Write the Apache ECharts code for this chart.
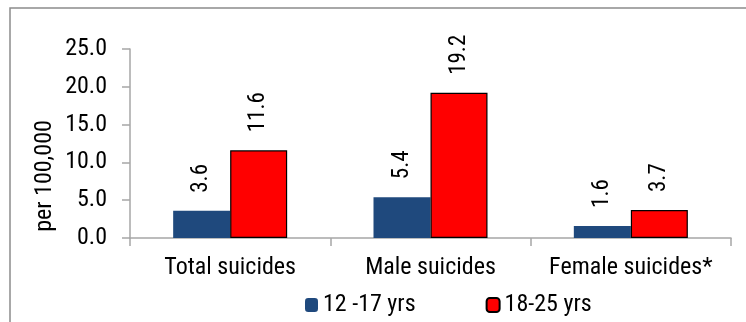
<!DOCTYPE html>
<html>
<head>
<meta charset="utf-8">
<style>
  html, body { margin: 0; padding: 0; background: #fff; }
  #chart { width: 746px; height: 322px; }
</style>
<script src="https://cdn.jsdelivr.net/npm/echarts@6/dist/echarts.min.js"></script>
</head>
<body>
<div id="chart"></div>
<script>
// Suicide rates per 100,000 by age group
const categories = ['Total suicides', 'Male suicides', 'Female suicides*'];
const seriesNames = ['12 -17 yrs', '18-25 yrs'];
const rates12to17 = [3.6, 5.4, 1.6];
const rates18to25 = [11.6, 19.2, 3.7];
const yMin = 0, yMax = 25, yStep = 5;
const yTitle = 'per 100,000';

const FONT = '"Roboto Condensed", "Liberation Sans Narrow", "Arial Narrow", sans-serif';
const AXIS_GRAY = '#a6a6a6';

const chart = echarts.init(document.getElementById('chart'), null, { renderer: 'canvas' });

const valueLabel = {
  show: true,
  position: 'top',
  rotate: 90,
  align: 'left',
  verticalAlign: 'middle',
  distance: 18,
  fontFamily: FONT,
  fontSize: 23,
  color: '#000',
  formatter: p => p.value.toFixed(1)
};

chart.setOption({
  animation: false,
  backgroundColor: '#fff',
  grid: { left: 130, right: 15, top: 49, bottom: 84, containLabel: false },
  legend: {
    data: seriesNames,
    left: 300,
    top: 288,
    itemWidth: 13,
    itemHeight: 14,
    itemGap: 70,
    textStyle: { fontFamily: FONT, fontSize: 24, color: '#000' }
  },
  xAxis: {
    type: 'category',
    data: categories,
    axisLine: { lineStyle: { color: AXIS_GRAY, width: 1.5 } },
    axisTick: { show: true, length: 8, lineStyle: { color: AXIS_GRAY, width: 1.5 } },
    axisLabel: { interval: 0, fontFamily: FONT, fontSize: 24, color: '#000', margin: 18 },
    splitLine: { show: false }
  },
  yAxis: {
    type: 'value',
    min: yMin,
    max: yMax,
    interval: yStep,
    axisLine: { show: true, lineStyle: { color: AXIS_GRAY, width: 1.5 } },
    axisTick: { show: true, length: 8, lineStyle: { color: AXIS_GRAY, width: 1.5 } },
    axisLabel: {
      fontFamily: FONT, fontSize: 24, color: '#000', margin: 23,
      formatter: v => v.toFixed(1)
    },
    splitLine: { show: false }
  },
  series: [
    {
      name: seriesNames[0],
      type: 'bar',
      data: rates12to17,
      barWidth: 57,
      barGap: '0%',
      itemStyle: { color: '#1f497d' },
      label: valueLabel
    },
    {
      name: seriesNames[1],
      type: 'bar',
      data: rates18to25,
      barWidth: 57,
      itemStyle: { color: '#ff0000', borderColor: '#000', borderWidth: 1.2 },
      label: valueLabel
    }
  ],
  graphic: [
    {
      type: 'rect',
      shape: { x: 10, y: 8, width: 900, height: 500 },
      style: { fill: 'none', stroke: '#8c8c8c', lineWidth: 1.5 },
      silent: true
    },
    {
      type: 'text',
      x: 45,
      y: 176,
      rotation: Math.PI / 2,
      style: {
        text: yTitle,
        fontFamily: FONT,
        fontSize: 24,
        fill: '#000',
        align: 'center',
        verticalAlign: 'middle'
      }
    }
  ]
});
</script>
</body>
</html>
